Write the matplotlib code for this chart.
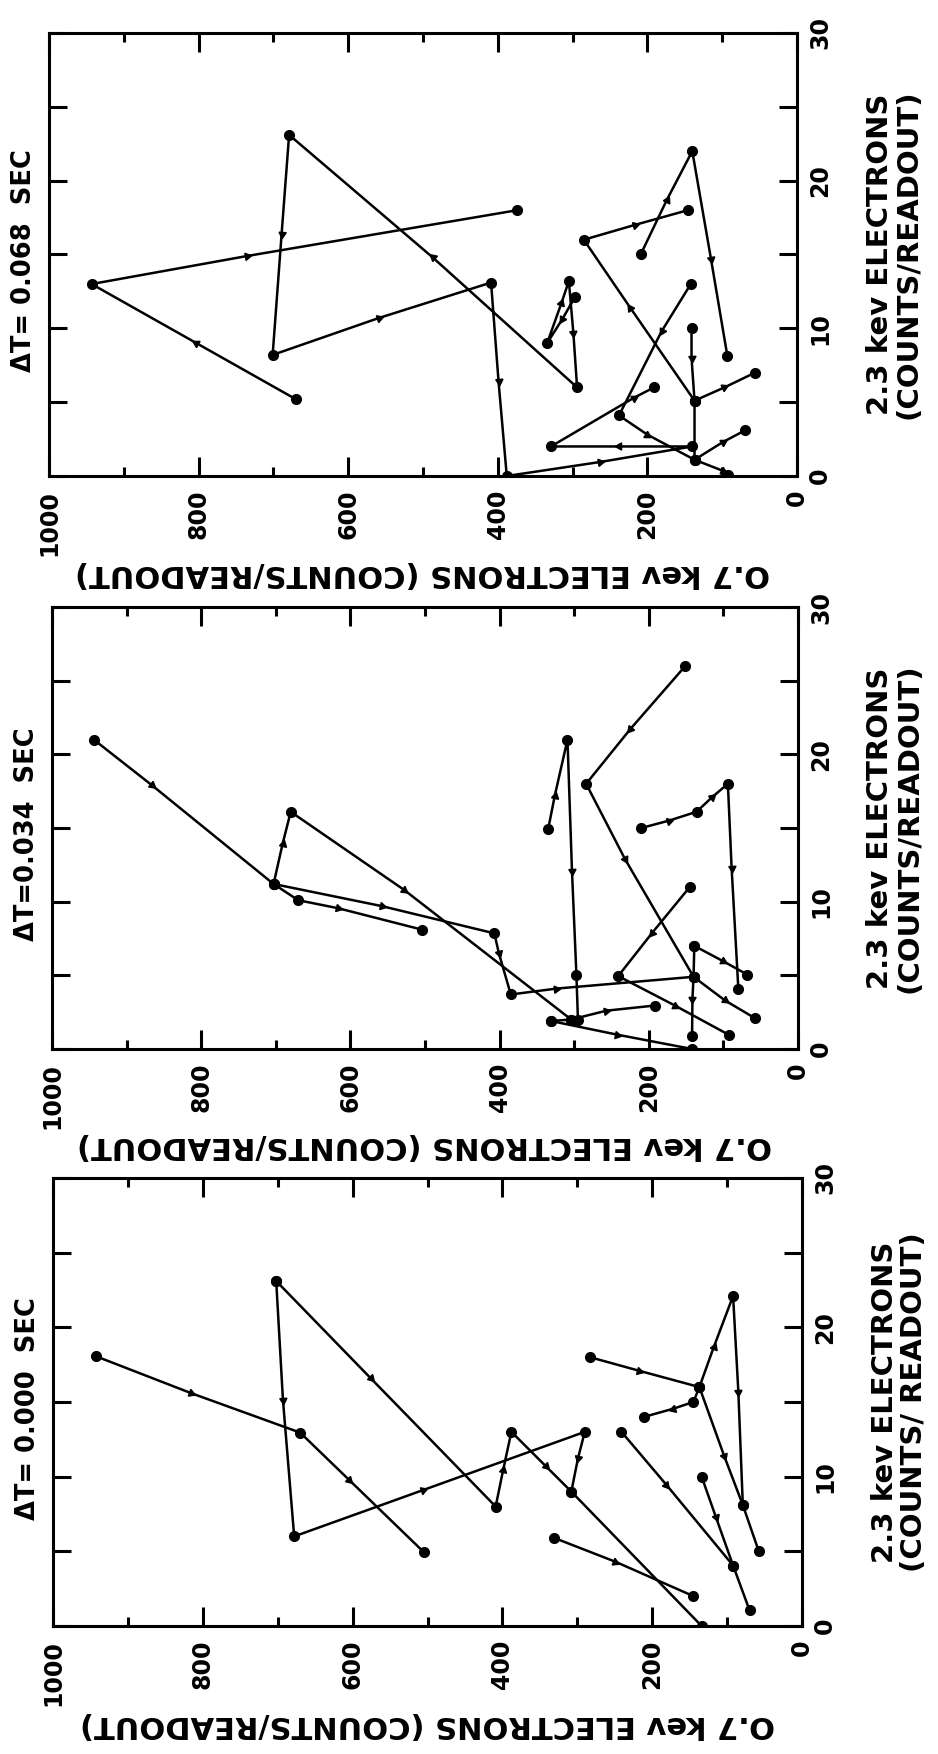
import numpy as np
import matplotlib
matplotlib.use("Agg")
import matplotlib.pyplot as plt
from matplotlib.ticker import MultipleLocator

# 0.7 keV counts (x) and 2.3 keV counts (y) along each readout track.
# marks: 'o' = dot, 'a' = small arrowhead on the track
dt068_x = [
    [670, 803, 943, 735, 374],
    [297, 314, 334, 315, 305, 299, 294, 487, 679, 689, 701, 559, 409, 399,
     388, 263, 140, 238, 329, 218, 191],
    [142, 181, 238, 200, 137, 99, 92],
    [141, 141, 137, 137],
    [137, 223, 285, 217, 146],
    [137, 97, 56],
    [137, 99, 69],
    [209, 174, 140, 115, 93],
]
dt068_y = [
    [5.2, 9.0, 13.0, 14.9, 18.0],
    [12.1, 10.6, 9.0, 11.7, 13.2, 9.7, 6.0, 14.8, 23.1, 16.4, 8.2, 10.7, 13.1, 6.4,
     0.0, 0.95, 2.0, 2.0, 2.0, 5.3, 6.0],
    [13.0, 9.8, 4.1, 2.8, 1.1, 0.35, 0.05],
    [10.0, 8.0, 5.1, 1.1],
    [5.1, 11.4, 16.0, 17.0, 18.0],
    [5.1, 6.0, 7.0],
    [1.1, 2.3, 3.1],
    [15.0, 18.7, 22.0, 14.7, 8.1],
]
dt068_marks = ["oaoao", "oaoaoaoaoaoaoaoaoaoao", "oaoaoao", "oaoo", "oaoao",
               "oao", "oao", "oaoao"]

dt034_x = [
    [944, 866, 703, 691, 680, 528, 304],
    [703, 670, 616, 504],
    [703, 558, 407, 401, 385, 324, 140],
    [335, 326, 309, 303, 297, 295],
    [331, 304, 257, 192],
    [331, 242, 142],
    [151, 225, 284, 232, 140],
    [145, 196, 241, 165, 93],
    [139, 140, 141.5, 142],
    [139, 100, 68],
    [140, 98, 58],
    [210, 173, 136, 115, 94, 89, 80],
]
dt034_y = [
    [21.0, 17.9, 11.2, 13.9, 16.1, 10.8, 2.0],
    [11.2, 10.1, 9.55, 8.1],
    [11.2, 9.7, 7.85, 6.5, 3.7, 4.1, 4.9],
    [14.9, 17.2, 21.0, 12.1, 5.0, 2.0],
    [1.9, 2.0, 2.6, 2.95],
    [1.9, 0.97, 0.0],
    [26.0, 21.7, 18.0, 12.9, 4.9],
    [11.0, 7.85, 4.95, 2.95, 0.97],
    [7.0, 4.9, 3.4, 0.9],
    [7.0, 5.95, 5.05],
    [4.9, 3.3, 2.1],
    [15.0, 15.5, 16.1, 17.1, 18.0, 12.3, 4.1],
]
dt034_marks = ["oaoaoao", "ooao", "oaoaoao", "oaoaoo", "ooao", "oao", "oaoao",
               "oaoao", "ooao", "oao", "oao", "oaoaoao"]

dt000_x = [
    [942, 816, 670, 605, 505],
    [702, 693, 678, 506, 290, 299, 308],
    [702, 576, 409, 399, 388, 342, 308, 134],
    [331, 249, 145],
    [241, 181, 92],
    [134, 115, 92, 70],
    [283, 218, 137, 118, 92, 85, 79],
    [137, 104, 79, 58],
    [137, 145, 172, 211],
]
dt000_y = [
    [18.05, 15.6, 12.95, 9.8, 4.95],
    [23.1, 15.15, 6.0, 9.1, 13.0, 11.25, 9.0],
    [23.1, 16.6, 8.0, 10.45, 13.0, 10.7, 9.0, 0.0],
    [5.9, 4.3, 2.0],
    [13.0, 9.45, 4.05],
    [10.0, 7.3, 4.05, 1.05],
    [18.0, 17.1, 16.0, 18.65, 22.1, 15.7, 8.1],
    [16.0, 11.4, 8.1, 5.05],
    [16.0, 15.0, 14.55, 14.0],
]
dt000_marks = ["oaoao", "oaoaoao", "oaoaoaoo", "oao", "oao", "oaoo", "oaoaoao",
               "oaoo", "ooao"]

dt_titles = ["\u0394T= 0.068  SEC", "\u0394T=0.034  SEC", "\u0394T= 0.000  SEC"]
right_labels = ["2.3 kev ELECTRONS\n(COUNTS/READOUT)",
                "2.3 kev ELECTRONS\n(COUNTS/READOUT)",
                "2.3 kev ELECTRONS\n(COUNTS/ READOUT)"]
bottom_label = "O.7 kev ELECTRONS (COUNTS/READOUT)"

fig = plt.figure(figsize=(9.38, 17.54), dpi=100)
rects = [
    [49 / 938, 1 - 476 / 1754, 748 / 938, 443 / 1754],
    [52 / 938, 1 - 1049 / 1754, 746 / 938, 442 / 1754],
    [53 / 938, 1 - 1626 / 1754, 749 / 938, 448 / 1754],
]
panels = [(dt068_x, dt068_y, dt068_marks),
          (dt034_x, dt034_y, dt034_marks),
          (dt000_x, dt000_y, dt000_marks)]


def draw_track(ax, xs, ys, marks):
    ax.plot(xs, ys, color="black", lw=1.8, solid_capstyle="round", zorder=2)
    pts = ax.transData.transform(np.column_stack([xs, ys]))
    for i, m in enumerate(marks):
        if m == "o":
            ax.plot(xs[i], ys[i], "o", ms=7, color="black", zorder=3)
        else:
            d = pts[i + 1] - pts[i - 1]
            ang = np.degrees(np.arctan2(d[1], d[0]))
            ax.plot(xs[i], ys[i], marker=(3, 0, ang - 90), ms=6, color="black",
                    zorder=3)


for k, (rect, (px, py, pm)) in enumerate(zip(rects, panels)):
    ax = fig.add_axes(rect)
    ax.set_xlim(1000, 0)
    ax.set_ylim(0, 30)
    for s in ax.spines.values():
        s.set_linewidth(2.2)

    ax.xaxis.set_major_locator(MultipleLocator(200))
    ax.xaxis.set_minor_locator(MultipleLocator(100))
    ax.yaxis.set_major_locator(MultipleLocator(10))
    ax.yaxis.set_minor_locator(MultipleLocator(5))
    ax.tick_params(axis="x", which="both", direction="in", top=True, bottom=True,
                   width=2.2, labelrotation=90, pad=10)
    ax.tick_params(axis="x", which="major", length=14)
    ax.tick_params(axis="x", which="minor", length=6.5)
    ax.tick_params(axis="y", which="both", direction="in", left=True, right=True,
                   width=2.2, length=13, labelleft=False, labelright=True,
                   labelrotation=90, pad=8)
    for lbl in ax.get_xticklabels() + ax.yaxis.get_majorticklabels():
        lbl.set_fontsize(17)
        lbl.set_fontweight("bold")
    for lbl in ax.yaxis.get_majorticklabels():
        lbl.set_va("center")

    for xs, ys, marks in zip(px, py, pm):
        draw_track(ax, xs, ys, marks)

    ax.text(-0.034, 0.486, dt_titles[k], transform=ax.transAxes, rotation=90,
            ha="center", va="center", fontsize=18.5, fontweight="bold")
    ax.text(1.13, 0.5, right_labels[k], transform=ax.transAxes, rotation=90,
            ha="center", va="center", multialignment="center", fontsize=21,
            fontweight="bold", linespacing=1.05)
    ax.text(0.5, -0.219, bottom_label, transform=ax.transAxes, rotation=180,
            ha="center", va="center", fontsize=22, fontweight="bold")

fig.savefig("out.png", dpi=100, facecolor="white")
